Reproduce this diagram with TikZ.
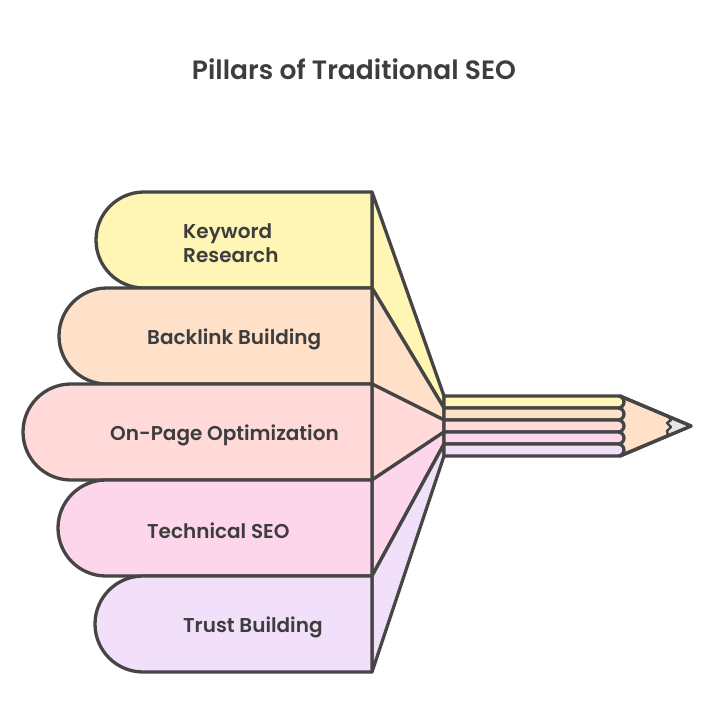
\documentclass[tikz,border=0pt]{standalone}
\usepackage{fontspec}
\setmainfont{Poppins}[UprightFont=* Medium, BoldFont=* SemiBold]
\definecolor{ink}{HTML}{454545}
\definecolor{txt}{HTML}{3D3D3D}
\definecolor{cYel}{HTML}{FFF5B5}
\definecolor{cPea}{HTML}{FFE1CA}
\definecolor{cRos}{HTML}{FFDAD8}
\definecolor{cPnk}{HTML}{FDD6EC}
\definecolor{cLav}{HTML}{F2DFFA}
\definecolor{cLead}{HTML}{E6E6E6}
\begin{document}
\begin{tikzpicture}[x=1pt,y=-1pt,
  outl/.style={draw=ink,line width=3.3pt,line join=round,line cap=round},
  lbl/.style={anchor=west,text=txt,font=\bfseries\fontsize{20}{24}\selectfont,align=left,inner sep=0pt},
  ttl/.style={text=txt,font=\bfseries\fontsize{26.5}{30}\selectfont,inner sep=0pt}]
\useasboundingbox (0,0) rectangle (714,720);
% title
\node[ttl] (title) at (354,69) {Pillars of Traditional SEO};
% fan pieces
\filldraw[outl,fill=cYel] (372,192) -- (444,396) -- (444,408) -- (372,288) -- cycle;
\filldraw[outl,fill=cPea] (372,288) -- (444,408) -- (444,420) -- (372,384) -- cycle;
\filldraw[outl,fill=cRos] (372,384) -- (444,420) -- (444,432) -- (372,480) -- cycle;
\filldraw[outl,fill=cPnk] (372,480) -- (444,432) -- (444,444) -- (372,576) -- cycle;
\filldraw[outl,fill=cLav] (372,576) -- (444,444) -- (444,456) -- (372,672) -- cycle;
% bands
\filldraw[outl,fill=cYel] (372,192) -- (144,192) arc[start angle=270,end angle=90,radius=48] -- (372,288) -- cycle;
\filldraw[outl,fill=cPea] (372,288) -- (107,288) arc[start angle=270,end angle=90,radius=48] -- (372,384) -- cycle;
\filldraw[outl,fill=cRos] (372,384) -- (71,384) arc[start angle=270,end angle=90,radius=48] -- (372,480) -- cycle;
\filldraw[outl,fill=cPnk] (372,480) -- (106,480) arc[start angle=270,end angle=90,radius=48] -- (372,576) -- cycle;
\filldraw[outl,fill=cLav] (372,576) -- (143,576) arc[start angle=270,end angle=90,radius=48] -- (372,672) -- cycle;
% labels
\node[lbl] (kw) at (183,243) {Keyword\\Research};
\node[lbl] (bl) at (147,339) {Backlink Building};
\node[lbl] (op) at (110,435) {On-Page Optimization};
\node[lbl] (ts) at (147,531) {Technical SEO};
\node[lbl] (tb) at (183,627) {Trust Building};
% pencil tip
\filldraw[outl,fill=cPea] (620,396) -- (691,426) -- (620,456) -- cycle;
\fill[cLead] (668,416.3) -- (691,426) -- (668,435.7) -- cycle;
\draw[outl,line width=2.4pt] (668,416.3) -- (671,420) -- (667,423) -- (671,427) -- (667,431) -- (668,435.7);
\draw[outl] (620,396) -- (691,426) -- (620,456);
% pencil body rows
\filldraw[outl,fill=cYel] (444,396) -- (618,396) arc[start angle=270,end angle=450,radius=6] -- (444,408) -- cycle;
\filldraw[outl,fill=cPea] (444,408) -- (618,408) arc[start angle=270,end angle=450,radius=6] -- (444,420) -- cycle;
\filldraw[outl,fill=cRos] (444,420) -- (618,420) arc[start angle=270,end angle=450,radius=6] -- (444,432) -- cycle;
\filldraw[outl,fill=cPnk] (444,432) -- (618,432) arc[start angle=270,end angle=450,radius=6] -- (444,444) -- cycle;
\filldraw[outl,fill=cLav] (444,444) -- (618,444) arc[start angle=270,end angle=450,radius=6] -- (444,456) -- cycle;
\end{tikzpicture}
\end{document}
